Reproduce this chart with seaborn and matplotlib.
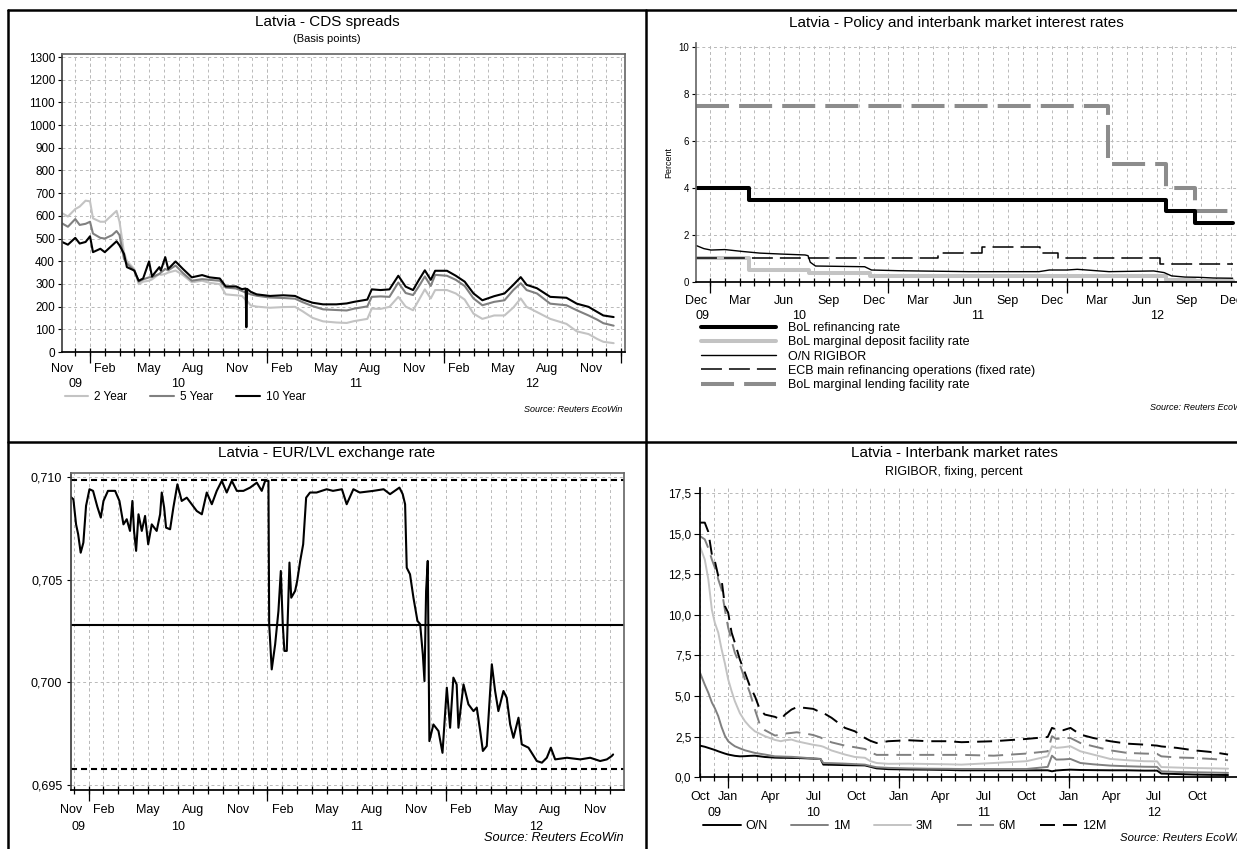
import numpy as np
import seaborn as sns
from matplotlib import pyplot as plt
from matplotlib.lines import Line2D
from matplotlib.ticker import FuncFormatter

sns.set_theme(style="white", rc={
    "text.color": "black", "axes.labelcolor": "black",
    "xtick.color": "black", "ytick.color": "black", "axes.edgecolor": "black",
})
plt.rcParams["font.family"] = ["Liberation Sans", "DejaVu Sans"]

W, H = 1237, 849
MONTHS = ["Jan", "Feb", "Mar", "Apr", "May", "Jun", "Jul", "Aug", "Sep", "Oct", "Nov", "Dec"]
GRID = "#b9b9b9"
LIGHT = "#c3c3c3"
MID = "#808080"

# ---------------- CDS spreads (months since 1 Nov 2009) ----------------
cds_month = [0.1, 0.5, 1.0, 1.3, 1.7, 2.0, 2.2, 2.7, 3.0, 3.5, 3.8, 4.0, 4.3, 4.5, 5.0,
             5.3, 5.6, 6.0, 6.2, 6.7, 6.8, 7.1, 7.3, 7.8, 8.3, 8.9, 9.6, 10.1, 10.8, 11.2,
             11.9, 12.3, 12.55, 12.6, 12.65, 12.9, 13.3, 14.2, 15.1, 15.9, 16.4, 17.1, 17.8,
             18.7, 19.4, 19.9, 20.8, 21.1, 21.7, 22.3, 22.9, 23.4, 23.9, 24.3, 24.7, 25.1,
             25.4, 26.2, 26.8, 27.4, 28.0, 28.6, 29.4, 30.1, 30.7, 31.2, 31.6, 32.3, 33.2,
             34.3, 35.0, 35.8, 36.4, 36.8, 37.5]
cds_2y = [612, 597, 630, 641, 667, 664, 589, 574, 574, 604, 622, 574, 440, 400, 366,
          299, 310, 314, 320, 344, 340, 344, 350, 359, 339, 307, 314, 305, 299, 254,
          250, 247, 230, 230, 225, 205, 200, 195, 198, 199, 180, 150, 135, 130, 128,
          136, 146, 191, 190, 199, 243, 200, 184, 230, 276, 236, 273, 273, 258, 231,
          169, 146, 161, 161, 196, 236, 199, 176, 146, 124, 91, 79, 57, 45, 39]
cds_5y = [567, 552, 586, 560, 565, 574, 522, 503, 500, 515, 533, 515, 411, 390, 359,
          310, 320, 329, 330, 344, 350, 366, 360, 381, 348, 314, 321, 318, 314, 284,
          280, 269, 262, 262, 260, 254, 248, 240, 238, 235, 220, 202, 188, 185, 183,
          191, 201, 243, 245, 243, 306, 260, 251, 290, 333, 291, 340, 336, 318, 291,
          236, 206, 221, 228, 273, 303, 273, 258, 213, 206, 184, 161, 142, 127, 116]
cds_10y = [485, 473, 503, 478, 485, 510, 440, 455, 440, 470, 488, 470, 433, 374, 359,
           314, 324, 399, 333, 374, 359, 418, 366, 399, 366, 329, 339, 329, 324, 289,
           289, 277, 280, 109, 278, 265, 254, 247, 250, 247, 232, 217, 210, 210, 214,
           221, 231, 276, 273, 276, 336, 288, 273, 318, 360, 318, 358, 358, 336, 310,
           258, 228, 246, 258, 296, 330, 296, 281, 243, 239, 213, 199, 176, 161, 154]

# ---------------- policy rates (months since 1 Dec 2009) ----------------
refi_month = [0.1, 3.66, 31.6, 33.6, 36.1]
refi_rate = [4.0, 3.5, 3.0, 2.5, 2.5]
dep_month = [0.1, 3.66, 7.64, 11.74, 31.6, 33.6, 36.1]
dep_rate = [1.0, 0.5, 0.375, 0.25, 0.1, 0.05, 0.05]
lend_month = [0.1, 27.7, 31.6, 33.6, 36.1]
lend_rate = [7.5, 5.0, 4.0, 3.0, 3.0]
ecb_month = [0.1, 16.3, 19.3, 23.2, 24.4, 31.2, 36.1]
ecb_rate = [1.0, 1.25, 1.5, 1.25, 1.0, 0.75, 0.75]
on_month = [0.1, 0.61, 1.08, 2.02, 3.19, 4.36, 5.76, 7.4, 7.6, 7.75, 8.1, 11.4, 11.86,
            13.73, 18.4, 23.1, 23.8, 24.97, 25.67, 27.8, 30.8, 31.5, 32.0, 32.9, 33.8,
            34.8, 36.1]
on_rate = [1.55, 1.42, 1.36, 1.38, 1.30, 1.23, 1.19, 1.15, 1.12, 0.84, 0.68, 0.65, 0.51,
           0.48, 0.44, 0.44, 0.51, 0.51, 0.54, 0.44, 0.47, 0.40, 0.26, 0.21, 0.20, 0.17,
           0.16]

# ---------------- EUR/LVL (months since 1 Nov 2009) ----------------
fx_central = 0.702804
fx_upper = 0.709832
fx_lower = 0.695776
fx_month = [0.8, 0.98, 1.16, 1.3, 1.47, 1.65, 1.83, 2.06, 2.3, 2.59, 2.82, 3.0, 3.3, 3.78,
            4.07, 4.34, 4.56, 4.78, 4.94, 5.05, 5.19, 5.35, 5.57, 5.79, 6.0, 6.24, 6.57,
            6.8, 6.91, 7.07, 7.2, 7.47, 7.69, 7.96, 8.25, 8.59, 8.92, 9.26, 9.6, 9.93,
            10.27, 10.6, 10.94, 11.27, 11.61, 11.95, 12.39, 12.84, 13.29, 13.62, 13.85,
            14.07, 14.12, 14.29, 14.52, 14.74, 14.9, 15.03, 15.14, 15.3, 15.48, 15.6,
            15.86, 16.0, 16.2, 16.4, 16.6, 16.86, 17.3, 17.98, 18.4, 19.0, 19.32, 19.77,
            20.2, 21.1, 21.8, 22.23, 22.86, 23.08, 23.24, 23.35, 23.57, 23.8, 24.07,
            24.25, 24.43, 24.54, 24.65, 24.76, 24.87, 25.14, 25.48, 25.75, 26.04, 26.26,
            26.48, 26.7, 26.82, 27.16, 27.49, 27.83, 28.05, 28.28, 28.46, 28.72, 29.06,
            29.28, 29.5, 29.84, 30.06, 30.29, 30.51, 30.85, 31.07, 31.52, 32.08, 32.42,
            32.75, 33.02, 33.31, 34.1, 35.0, 35.66, 36.33, 36.78, 37.1, 37.2]
fx_rate = [0.70903, 0.70891, 0.70769, 0.70721, 0.70631, 0.70680, 0.70859, 0.70940,
           0.70932, 0.70854, 0.70802, 0.70883, 0.70932, 0.70932, 0.70883, 0.70769,
           0.70794, 0.70737, 0.70883, 0.70737, 0.70640, 0.70818, 0.70737, 0.70810,
           0.70672, 0.70769, 0.70737, 0.70818, 0.70924, 0.70851, 0.70753, 0.70745,
           0.70851, 0.70964, 0.70883, 0.70899, 0.70867, 0.70834, 0.70818, 0.70924,
           0.70867, 0.70932, 0.70981, 0.70924, 0.70981, 0.70932, 0.70932, 0.70948,
           0.70972, 0.70932, 0.70981, 0.70981, 0.70283, 0.70063, 0.70185, 0.70347,
           0.70542, 0.70283, 0.70153, 0.70153, 0.70583, 0.70412, 0.70445, 0.70494,
           0.70591, 0.70672, 0.70899, 0.70924, 0.70924, 0.70940, 0.70932, 0.70940,
           0.70867, 0.70940, 0.70924, 0.70932, 0.70940, 0.70916, 0.70948, 0.70916,
           0.70867, 0.70558, 0.70526, 0.70412, 0.70299, 0.70283, 0.70136, 0.70006,
           0.70445, 0.70591, 0.69714, 0.69795, 0.69763, 0.69657, 0.69974, 0.69779,
           0.70023, 0.69990, 0.69779, 0.69990, 0.69893, 0.69860, 0.69877, 0.69763,
           0.69666, 0.69690, 0.70088, 0.69958, 0.69860, 0.69958, 0.69925, 0.69795,
           0.69730, 0.69828, 0.69698, 0.69682, 0.69617, 0.69609, 0.69633, 0.69682,
           0.69625, 0.69633, 0.69625, 0.69633, 0.69617, 0.69625, 0.69641, 0.69649]

# ---------------- RIGIBOR fixings (months since 1 Oct 2009) ----------------
ib_month = [1.0, 1.35, 1.6, 1.85, 2.06, 2.3, 2.53, 2.77, 3.0, 3.24, 3.47, 3.82, 4.18,
            4.53, 4.88, 5.23, 5.58, 6.29, 6.71, 7.0, 7.46, 7.82, 8.4, 8.99, 9.5, 9.7,
            10.28, 11.22, 11.92, 12.63, 13.0, 13.45, 14.27, 15.68, 17.09, 18.5, 19.43,
            21.7, 24.0, 25.5, 25.8, 26.1, 26.6, 27.1, 27.8, 28.7, 29.9, 31.1, 32.3, 33.2,
            33.5, 34.6, 35.8, 37.2, 38.2]
ib_on = [1.95, 1.88, 1.81, 1.74, 1.68, 1.6, 1.53, 1.46, 1.4, 1.36, 1.32, 1.29, 1.3,
         1.32, 1.33, 1.29, 1.25, 1.21, 1.2, 1.2, 1.19, 1.19, 1.17, 1.15, 1.13, 0.78,
         0.77, 0.75, 0.74, 0.73, 0.65, 0.55, 0.5, 0.48, 0.47, 0.45, 0.43,
         0.43, 0.43, 0.43, 0.37, 0.42, 0.45, 0.47, 0.45, 0.44, 0.43, 0.43, 0.41, 0.41,
         0.23, 0.2, 0.17, 0.15, 0.14]
ib_1m = [6.47, 5.7, 5.2, 4.6, 4.25, 3.76, 3.1, 2.55, 2.22, 2.05, 1.91, 1.78, 1.66,
         1.58, 1.5, 1.45, 1.4, 1.29, 1.28, 1.27, 1.26, 1.24, 1.2, 1.16, 1.12, 0.88,
         0.87, 0.84, 0.81, 0.78, 0.7, 0.62, 0.58, 0.55, 0.53, 0.52, 0.51,
         0.51, 0.51, 0.64, 1.33, 1.09, 1.1, 1.13, 0.88, 0.8, 0.72, 0.68, 0.65, 0.64,
         0.37, 0.33, 0.31, 0.29, 0.27]
ib_3m = [14.23, 13.4, 12.18, 10.3, 9.5, 8.9, 7.9, 7.0, 6.02, 5.3, 4.68, 3.95, 3.45,
         3.1, 2.83, 2.68, 2.53, 2.3, 2.22, 2.28, 2.32, 2.22, 2.11, 2.0, 1.93, 1.88,
         1.65, 1.4, 1.25, 1.2, 1.0, 0.88, 0.83, 0.84, 0.82, 0.8, 0.78,
         0.88, 0.99, 1.29, 1.91, 1.81, 1.85, 1.91, 1.6, 1.4, 1.13, 1.05, 0.99, 0.98,
         0.63, 0.6, 0.57, 0.55, 0.53]
ib_6m = [14.85, 14.64, 14.1, 13.4, 12.9, 12.18, 11.56, 10.3, 9.2, 8.4, 7.66, 6.94, 6.02,
         5.2, 4.17, 3.24, 2.9, 2.57, 2.62, 2.69, 2.73, 2.77, 2.7, 2.6, 2.45, 2.36,
         2.15, 1.95, 1.85, 1.74, 1.55, 1.38, 1.38, 1.38, 1.38, 1.38, 1.38,
         1.33, 1.46, 1.6, 2.53, 2.36, 2.4, 2.42, 2.11, 1.91, 1.66, 1.5, 1.46, 1.44,
         1.29, 1.22, 1.19, 1.12, 1.05]
ib_12m = [15.67, 15.67, 15.1, 13.7, 13.3, 12.38, 12.18, 10.53, 10.12, 8.9, 8.28, 7.25,
          6.43, 5.6, 4.99, 4.17, 3.86, 3.72, 3.55, 3.86, 4.17, 4.31, 4.27, 4.21, 4.0,
          3.96, 3.66, 3.04, 2.83, 2.42, 2.25, 2.11, 2.22, 2.28, 2.22, 2.22, 2.16,
          2.22, 2.36, 2.48, 3.04, 2.94, 2.9, 3.04, 2.63, 2.42, 2.22, 2.07, 2.01, 1.95,
          1.9, 1.81, 1.66, 1.54, 1.4]


def box(left, top, right, bottom):
    return [left / W, 1 - bottom / H, (right - left) / W, (bottom - top) / H]


def below(ax, x, text, dy, fs):
    ax.annotate(text, xy=(x, 0), xycoords=("data", "axes fraction"),
                xytext=(0, -dy), textcoords="offset pixels",
                ha="center", va="center", fontsize=fs, annotation_clip=False)


def style_grid(ax):
    ax.set_axisbelow(True)
    ax.grid(which="both", axis="x", color=GRID, linewidth=0.7, linestyle=(0, (3, 3)))
    ax.grid(which="major", axis="y", color=GRID, linewidth=0.7, linestyle=(0, (3, 3)))


def month_axis(ax, first, xlim, years, dy_month, dy_year, last_label=None, fs=9):
    """first = calendar index (0 = Jan) of month 0 on this axis."""
    ax.set_xlim(*xlim)
    months = np.arange(0, int(xlim[1]) + 1)
    months = months[months >= xlim[0]]
    ax.set_xticks([m for m in months if (first + m) % 12 == 0])
    ax.set_xticks(months, minor=True)
    ax.xaxis.remove_overlapping_locs = False
    ax.tick_params(axis="x", which="major", bottom=True, direction="out", length=8,
                   width=0.9, labelbottom=False)
    ax.tick_params(axis="x", which="minor", bottom=True, direction="inout", length=6,
                   width=0.9)
    last = int(xlim[1]) if last_label is None else last_label
    for m in range(0, last + 1, 3):
        below(ax, max(m, xlim[0]), MONTHS[(first + m) % 12], dy_month, fs)
    for pos, lab in years:
        below(ax, pos, lab, dy_year, fs)
    ax.set_xlabel("")
    ax.set_ylabel("")


fig = plt.figure(figsize=(W / 100, H / 100), dpi=100)

# frame of the four panels
for xs, ys in [([8, 8], [10, H]), ([8, W], [10, 10]), ([646, 646], [10, H]), ([8, W], [442, 442])]:
    fig.add_artist(Line2D([x / W for x in xs], [1 - y / H for y in ys],
                          transform=fig.transFigure, color="black", lw=1.8))

# ---------------- panel 1: CDS spreads ----------------
ax1 = fig.add_axes(box(62, 54.3, 625, 352))
style_grid(ax1)
sns.lineplot(x=cds_month, y=cds_2y, color=LIGHT, lw=1.5, label="2 Year", estimator=None, ax=ax1)
sns.lineplot(x=cds_month, y=cds_5y, color=MID, lw=1.5, label="5 Year", estimator=None, ax=ax1)
sns.lineplot(x=cds_month, y=cds_10y, color="black", lw=1.5, label="10 Year", estimator=None, ax=ax1)
ax1.set_ylim(0, 1312)
ax1.set_yticks(np.arange(0, 1301, 100))
ax1.tick_params(axis="y", left=True, direction="out", length=3, width=0.8, pad=2, labelsize=8.5)
month_axis(ax1, 10, (0.1, 38.27), [(1.0, "09"), (8.0, "10"), (20.0, "11"), (32.0, "12")], 17, 32)
for s in ["top", "right"]:
    ax1.spines[s].set_color("#6a6a6a")
ax1.spines["left"].set_color("#404040")
ax1.legend(loc="center left", bbox_to_anchor=(0.005, -0.151), ncol=3, frameon=False,
           fontsize=8.5, handlelength=2.0, handletextpad=0.5, columnspacing=1.95,
           borderpad=0, borderaxespad=0)
fig.text(327 / W, 1 - 22 / H, "Latvia - CDS spreads", ha="center", va="center", fontsize=11)
fig.text(327 / W, 1 - 39 / H, "(Basis points)", ha="center", va="center", fontsize=8)
fig.text(622 / W, 1 - 410 / H, "Source: Reuters EcoWin", ha="right", va="center",
         fontsize=6.5, style="italic")

# ---------------- panel 2: policy and interbank rates ----------------
ax2 = fig.add_axes(box(696, 43, 1262, 282))
style_grid(ax2)
sns.lineplot(x=lend_month, y=lend_rate, color="#8c8c8c", lw=2.9, drawstyle="steps-post",
             linestyle=(0, (8.2, 2.5)), label="BoL marginal lending facility rate",
             estimator=None, ax=ax2)
sns.lineplot(x=dep_month, y=dep_rate, color=LIGHT, lw=2.9, drawstyle="steps-post",
             label="BoL marginal deposit facility rate", estimator=None, ax=ax2)
sns.lineplot(x=ecb_month, y=ecb_rate, color="black", lw=1.1, drawstyle="steps-post",
             linestyle=(0, (13.7, 4.6)),
             label="ECB main refinancing operations (fixed rate)", estimator=None, ax=ax2)
sns.lineplot(x=refi_month, y=refi_rate, color="black", lw=2.9, drawstyle="steps-post",
             label="BoL refinancing rate", estimator=None, ax=ax2)
sns.lineplot(x=on_month, y=on_rate, color="black", lw=1.0, label="O/N RIGIBOR",
             estimator=None, ax=ax2)
ax2.set_ylim(0, 10.17)
ax2.set_yticks(np.arange(0, 11, 2))
ax2.tick_params(axis="y", left=True, direction="out", length=3, width=0.8, pad=2, labelsize=7)
month_axis(ax2, 11, (0.08, 38.07), [(0.5, "09"), (7.0, "10"), (19.0, "11"), (31.0, "12")], 19, 34)
ax2.spines["top"].set_visible(False)
ax2.spines["right"].set_visible(False)
ax2.spines["left"].set_color("#6a6a6a")
ax2.text(-0.049, 0.5, "Percent", rotation=90, transform=ax2.transAxes, ha="center",
         va="center", fontsize=6.5)
order2 = ["BoL refinancing rate", "BoL marginal deposit facility rate", "O/N RIGIBOR",
          "ECB main refinancing operations (fixed rate)", "BoL marginal lending facility rate"]
h2, l2 = ax2.get_legend_handles_labels()
lookup = dict(zip(l2, h2))
ax2.legend([lookup[k] for k in order2], order2, loc="center left",
           bbox_to_anchor=(0.009, -0.312), frameon=False, fontsize=9, handlelength=6.0,
           handletextpad=0.95, labelspacing=0.18, borderpad=0, borderaxespad=0)
fig.text(956 / W, 1 - 23 / H, "Latvia - Policy and interbank market interest rates",
         ha="center", va="center", fontsize=11)
fig.text(1248 / W, 1 - 407 / H, "Source: Reuters EcoWin", ha="right", va="center",
         fontsize=6.5, style="italic")

# ---------------- panel 3: EUR/LVL ----------------
ax3 = fig.add_axes(box(70.7, 473, 624, 790))
style_grid(ax3)
sns.lineplot(x=fx_month, y=fx_rate, color="black", lw=1.5, estimator=None, ax=ax3)
ax3.axhline(fx_central, color="black", lw=1.5)
ax3.axhline(fx_upper, color="black", lw=1.5, linestyle=(0, (2.9, 1.9)))
ax3.axhline(fx_lower, color="black", lw=1.5, linestyle=(0, (2.9, 1.9)))
ax3.set_ylim(0.69476, 0.71019)
ax3.set_yticks([0.695, 0.700, 0.705, 0.710])
ax3.yaxis.set_major_formatter(FuncFormatter(lambda v, p: f"{v:.3f}".replace(".", ",")))
ax3.tick_params(axis="y", left=True, direction="out", length=3, width=0.8, pad=3, labelsize=9)
month_axis(ax3, 10, (0.8, 37.93), [(1.3, "09"), (8.0, "10"), (20.0, "11"), (32.0, "12")], 20, 37)
for s in ["top", "right"]:
    ax3.spines[s].set_color("#6a6a6a")
ax3.spines["left"].set_color("#404040")
fig.text(327 / W, 1 - 453 / H, "Latvia - EUR/LVL exchange rate", ha="center", va="center",
         fontsize=11)
fig.text(624 / W, 1 - 838 / H, "Source: Reuters EcoWin", ha="right", va="center",
         fontsize=9.2, style="italic")

# ---------------- panel 4: interbank market rates ----------------
ax4 = fig.add_axes(box(699.8, 488, 1262, 777.3))
style_grid(ax4)
dash4 = (0, (7.7, 4.1))
sns.lineplot(x=ib_month, y=ib_on, color="black", lw=1.4, label="O/N", estimator=None, ax=ax4)
sns.lineplot(x=ib_month, y=ib_1m, color=MID, lw=1.4, label="1M", estimator=None, ax=ax4)
sns.lineplot(x=ib_month, y=ib_3m, color=LIGHT, lw=1.4, label="3M", estimator=None, ax=ax4)
sns.lineplot(x=ib_month, y=ib_6m, color=MID, lw=1.4, linestyle=dash4, label="6M",
             estimator=None, ax=ax4)
sns.lineplot(x=ib_month, y=ib_12m, color="black", lw=1.4, linestyle=dash4, label="12M",
             estimator=None, ax=ax4)
ax4.set_ylim(0, 17.8)
ax4.set_yticks(np.arange(0, 17.6, 2.5))
ax4.yaxis.set_major_formatter(FuncFormatter(lambda v, p: f"{v:.1f}".replace(".", ",")))
ax4.tick_params(axis="y", left=True, direction="out", length=4, width=0.8, pad=2, labelsize=8.5)
month_axis(ax4, 9, (1.0, 40.59), [(2.0, "09"), (9.0, "10"), (21.0, "11"), (33.0, "12")], 20, 36,
           last_label=36)
ax4.spines["top"].set_visible(False)
ax4.spines["right"].set_visible(False)
ax4.legend(loc="center left", bbox_to_anchor=(0.0057, -0.168), ncol=5, frameon=False,
           fontsize=9, handlelength=3.0, handletextpad=0.35, columnspacing=1.9,
           borderpad=0, borderaxespad=0)
fig.text(954 / W, 1 - 453 / H, "Latvia - Interbank market rates", ha="center", va="center",
         fontsize=11)
fig.text(954 / W, 1 - 472 / H, "RIGIBOR, fixing, percent", ha="center", va="center",
         fontsize=9)
fig.text(1245 / W, 1 - 838 / H, "Source: Reuters EcoWin", ha="right", va="center",
         fontsize=8.2, style="italic")

fig.savefig("out.png", dpi=100)
